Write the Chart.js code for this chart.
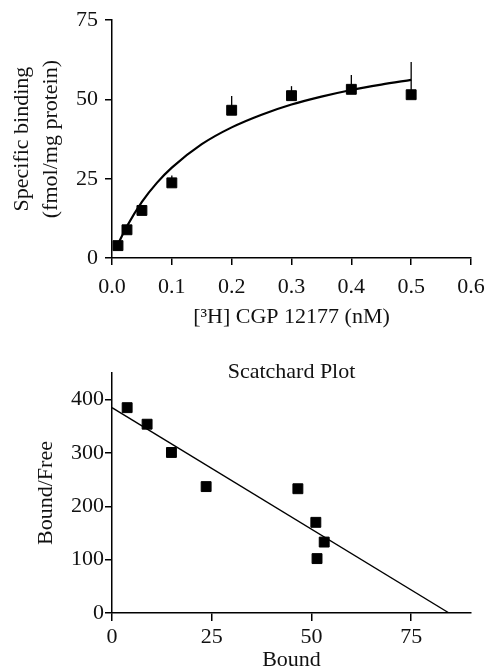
<!DOCTYPE html>
<html>
<head>
<meta charset="utf-8">
<script src="https://cdn.jsdelivr.net/npm/chart.js@4.4.1/dist/chart.umd.min.js"></script>
<style>
  body { margin: 0; background: #fff; }
  #wrap { position: relative; width: 485px; height: 671px; }
  canvas { position: absolute; left: 0; }
  #saturation { top: 0; }
  #scatchard { top: 340px; }
</style>
</head>
<body>
<div id="wrap">
  <canvas id="saturation" width="485" height="340"></canvas>
  <canvas id="scatchard" width="485" height="331"></canvas>
</div>
<script>
// saturation binding of [3H] CGP 12177
const concNM = [0.01, 0.025, 0.05, 0.1, 0.2, 0.3, 0.4, 0.5];
const specBinding = [3.9, 8.9, 15.0, 23.7, 46.6, 51.2, 53.2, 51.5];
const bindingErr = [0, 0, 0, 2.3, 4.5, 3.0, 4.5, 10.3]; // upper bars only
// fitted curve
const fitConc = [0.01, 0.025, 0.05, 0.075, 0.1, 0.15, 0.2, 0.25, 0.3, 0.35, 0.4, 0.45, 0.5];
const fitBinding = [4.4, 10.0, 17.7, 23.7, 28.5, 35.9, 41.2, 45.2, 48.4, 50.9, 53.0, 54.7, 56.2];
const satXTicks = [0, 0.1, 0.2, 0.3, 0.4, 0.5, 0.6];
const satYTicks = [0, 25, 50, 75];

// scatchard plot
const bound = [3.8, 8.8, 14.9, 23.6, 46.6, 51.1, 53.2, 51.4];
const boundFree = [385, 354, 301, 237, 233, 170, 133, 102];
const lineBound = [0, 84.5];
const lineBoundFree = [385, 0];
const scatXTicks = [0, 25, 50, 75];
const scatYTicks = [0, 100, 200, 300, 400];

const serif = "'Liberation Serif', 'Times New Roman', serif";
const ink = '#111';
const fs = 22;

function toPts(xs, ys) {
  return xs.map((x, i) => ({ x: x, y: ys[i] }));
}

function axisStyle(tickLen) {
  return {
    grid: { drawOnChartArea: false, drawTicks: true, tickLength: tickLen, color: '#000', lineWidth: 1.5 },
    border: { display: true, color: '#000', width: 1.5 }
  };
}

const squares = {
  pointStyle: 'rect',
  pointRadius: 7,
  backgroundColor: '#000',
  borderColor: '#000',
  borderWidth: 1,
  showLine: false,
  clip: false
};

// vertical error bars (upwards) drawn through the scales
const errorBars = {
  id: 'errorBars',
  afterDatasetsDraw(chart) {
    const { ctx, scales: { x, y } } = chart;
    ctx.save();
    ctx.strokeStyle = '#000';
    ctx.lineWidth = 1.3;
    concNM.forEach((c, i) => {
      if (!bindingErr[i]) return;
      const px = x.getPixelForValue(c);
      ctx.beginPath();
      ctx.moveTo(px, y.getPixelForValue(specBinding[i]));
      ctx.lineTo(px, y.getPixelForValue(specBinding[i] + bindingErr[i]));
      ctx.stroke();
    });
    ctx.restore();
  }
};

new Chart(document.getElementById('saturation'), {
  type: 'scatter',
  data: {
    datasets: [
      {
        type: 'line',
        data: toPts(fitConc, fitBinding),
        borderColor: '#000',
        borderWidth: 2.2,
        pointRadius: 0,
        cubicInterpolationMode: 'monotone',
        fill: false,
        order: 2
      },
      Object.assign({ data: toPts(concNM, specBinding), order: 1 }, squares)
    ]
  },
  options: {
    responsive: false,
    animation: false,
    layout: { padding: { top: 19, right: 14, left: 0, bottom: 0 } },
    plugins: { legend: { display: false }, tooltip: { enabled: false } },
    scales: {
      x: Object.assign({
        type: 'linear', min: 0, max: 0.6,
        afterBuildTicks: s => { s.ticks = satXTicks.map(v => ({ value: v })); },
        afterFit: s => { s.height = 82; s.paddingRight = 0; },
        ticks: { callback: v => v.toFixed(1), padding: 9, color: ink, font: { family: serif, size: fs } },
        title: {
          display: true, text: '[³H] CGP 12177 (nM)', color: ink,
          font: { family: serif, size: fs, lineHeight: 1 },
          padding: { top: 0, bottom: 12 }
        }
      }, axisStyle(7)),
      y: Object.assign({
        min: 0, max: 75,
        afterBuildTicks: s => { s.ticks = satYTicks.map(v => ({ value: v })); },
        afterFit: s => { s.width = 112; },
        ticks: { padding: 7, color: ink, font: { family: serif, size: fs } },
        title: {
          display: true, text: ['Specific binding', '(fmol/mg protein)'], color: ink,
          font: { family: serif, size: fs, lineHeight: 1.32 },
          padding: { top: 7.5, bottom: 0 }
        }
      }, axisStyle(7))
    }
  },
  plugins: [errorBars]
});

new Chart(document.getElementById('scatchard'), {
  type: 'scatter',
  data: {
    datasets: [
      {
        type: 'line',
        data: toPts(lineBound, lineBoundFree),
        borderColor: '#000',
        borderWidth: 1.3,
        pointRadius: 0,
        fill: false,
        order: 2
      },
      Object.assign({ data: toPts(bound, boundFree), order: 1 }, squares)
    ]
  },
  options: {
    responsive: false,
    animation: false,
    layout: { padding: { top: 0, right: 14, left: 0, bottom: 0 } },
    plugins: {
      legend: { display: false },
      tooltip: { enabled: false },
      title: {
        display: true, text: 'Scatchard Plot', color: ink, fullSize: false,
        font: { family: serif, size: fs, weight: 'normal', lineHeight: 1 },
        padding: { top: 21, bottom: -10 }
      }
    },
    scales: {
      x: Object.assign({
        type: 'linear', min: 0, max: 90,
        afterBuildTicks: s => { s.ticks = scatXTicks.map(v => ({ value: v })); },
        afterFit: s => { s.height = 58; },
        ticks: { padding: 3, color: ink, font: { family: serif, size: fs } },
        title: {
          display: true, text: 'Bound', color: ink,
          font: { family: serif, size: fs, lineHeight: 1 },
          padding: { top: 0, bottom: 0 }
        }
      }, axisStyle(8)),
      y: Object.assign({
        min: 0, max: 450,
        afterBuildTicks: s => { s.ticks = scatYTicks.map(v => ({ value: v })); },
        afterFit: s => { s.width = 112; },
        ticks: { padding: 1, color: ink, font: { family: serif, size: fs } },
        title: {
          display: true, text: 'Bound/Free', color: ink,
          font: { family: serif, size: fs, lineHeight: 1 },
          padding: { top: 35, bottom: 0 }
        }
      }, axisStyle(7))
    }
  }
});
</script>
</body>
</html>
